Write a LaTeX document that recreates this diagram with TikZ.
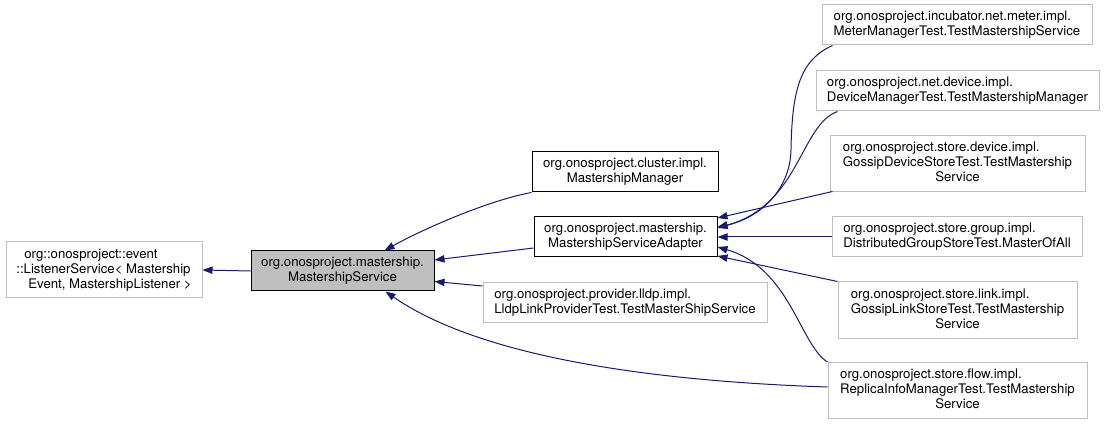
\documentclass[tikz,border=0pt]{standalone}
\usepackage{fontspec}
\setmainfont{TeX Gyre Heros}
\usetikzlibrary{arrows.meta,calc}
\definecolor{edgeblue}{HTML}{191970}
\definecolor{boxgray}{HTML}{BFBFBF}
\begin{document}
\begin{tikzpicture}[x=0.75pt,y=-0.75pt,
  cls/.style={draw=boxgray, fill=white, line width=0.75pt, inner sep=0pt,
    font=\fontsize{9.9}{11.25}\selectfont, align=center},
  blackbox/.style={cls, draw=black},
  mainbox/.style={cls, draw=black, fill=boxgray},
  inh/.style={draw=edgeblue, line width=0.75pt, -{Triangle[length=7.5pt,width=5.5pt]}}]
\useasboundingbox (0,0) rectangle (1104,424);
% nodes
\node[cls, minimum width=147pt, minimum height=42pt] (listener) at (104,270)
  {\begin{tabular}{@{}l@{}}\hspace*{6pt}org::onosproject::event\\::ListenerService< Mastership\\\hspace*{9pt}Event, MastershipListener >\end{tabular}};
\node[mainbox, minimum width=137.25pt, minimum height=30pt] (ms) at (342.5,271)
  {org.onosproject.mastership.\\MastershipService};
\node[blackbox, minimum width=139.5pt, minimum height=30pt] (cluster) at (625,172)
  {org.onosproject.cluster.impl.\\MastershipManager};
\node[blackbox, minimum width=137.25pt, minimum height=30pt] (adapter) at (625.5,237)
  {org.onosproject.mastership.\\MastershipServiceAdapter};
\node[cls, minimum width=213pt, minimum height=29.5pt] (lldp) at (625,302.5)
  {\begin{tabular}{@{}l@{}}org.onosproject.provider.lldp.impl.\\LldpLinkProviderTest.TestMasterShipService\end{tabular}};
\node[cls, minimum width=202.5pt, minimum height=30pt] (meter) at (957,25)
  {\begin{tabular}{@{}l@{}}org.onosproject.incubator.net.meter.impl.\\MeterManagerTest.TestMastershipService\end{tabular}};
\node[cls, minimum width=212.25pt, minimum height=30pt] (device) at (957.5,91)
  {\begin{tabular}{@{}l@{}}org.onosproject.net.device.impl.\\DeviceManagerTest.TestMastershipManager\end{tabular}};
\node[cls, minimum width=191.25pt, minimum height=42pt] (gdevice) at (957.5,164)
  {\begin{tabular}{@{}l@{}}org.onosproject.store.device.impl.\\GossipDeviceStoreTest.TestMastership\\\multicolumn{1}{@{}c@{}}{Service}\end{tabular}};
\node[cls, minimum width=187.5pt, minimum height=30pt] (group) at (957,237)
  {\begin{tabular}{@{}l@{}}org.onosproject.store.group.impl.\\DistributedGroupStoreTest.MasterOfAll\end{tabular}};
\node[cls, minimum width=179.25pt, minimum height=42pt] (glink) at (957.5,310)
  {\begin{tabular}{@{}l@{}}org.onosproject.store.link.impl.\\GossipLinkStoreTest.TestMastership\\\multicolumn{1}{@{}c@{}}{Service}\end{tabular}};
\node[cls, minimum width=194.25pt, minimum height=42pt] (replica) at (957.5,390.5)
  {\begin{tabular}{@{}l@{}}org.onosproject.store.flow.impl.\\ReplicaInfoManagerTest.TestMastership\\\multicolumn{1}{@{}c@{}}{Service}\end{tabular}};
% edges
\draw[inh] (ms.west) -- (listener.east);
\draw[inh] (cluster.south west) .. controls (490,200) and (425,228) .. ($(ms.north)+(42,0)$);
\draw[inh] ($(adapter.west)+(0,11)$) -- ($(ms.east)+(0,-11)$);
\draw[inh] ($(lldp.west)+(0,-16.5)$) -- ($(ms.east)+(0,10.5)$);
\draw[inh] ($(replica.west)+(0,-3.5)$) .. controls (620,380) and (470,350) .. ($(ms.south)+(43,0)$);
\draw[inh] ($(meter.south west)+(11,0)$) .. controls (800,60) and (792,90) .. (791,150)
  .. controls (790,190) and (760,218) .. ($(adapter.east)+(0,-10)$);
\draw[inh] ($(device.south west)+(22,0)$) .. controls (800,125) and (800,205) .. ($(adapter.east)+(0,-9)$);
\draw[inh] ($(gdevice.south west)+(3,-1)$) -- ($(adapter.east)+(0,-19)$);
\draw[inh] (group.west) -- (adapter.east);
\draw[inh] (replica.north west) .. controls (800,345) and (790,268) .. ($(adapter.east)+(0,10)$);
\draw[inh] (glink.north west) -- ($(adapter.east)+(0,19)$);
\end{tikzpicture}
\end{document}
